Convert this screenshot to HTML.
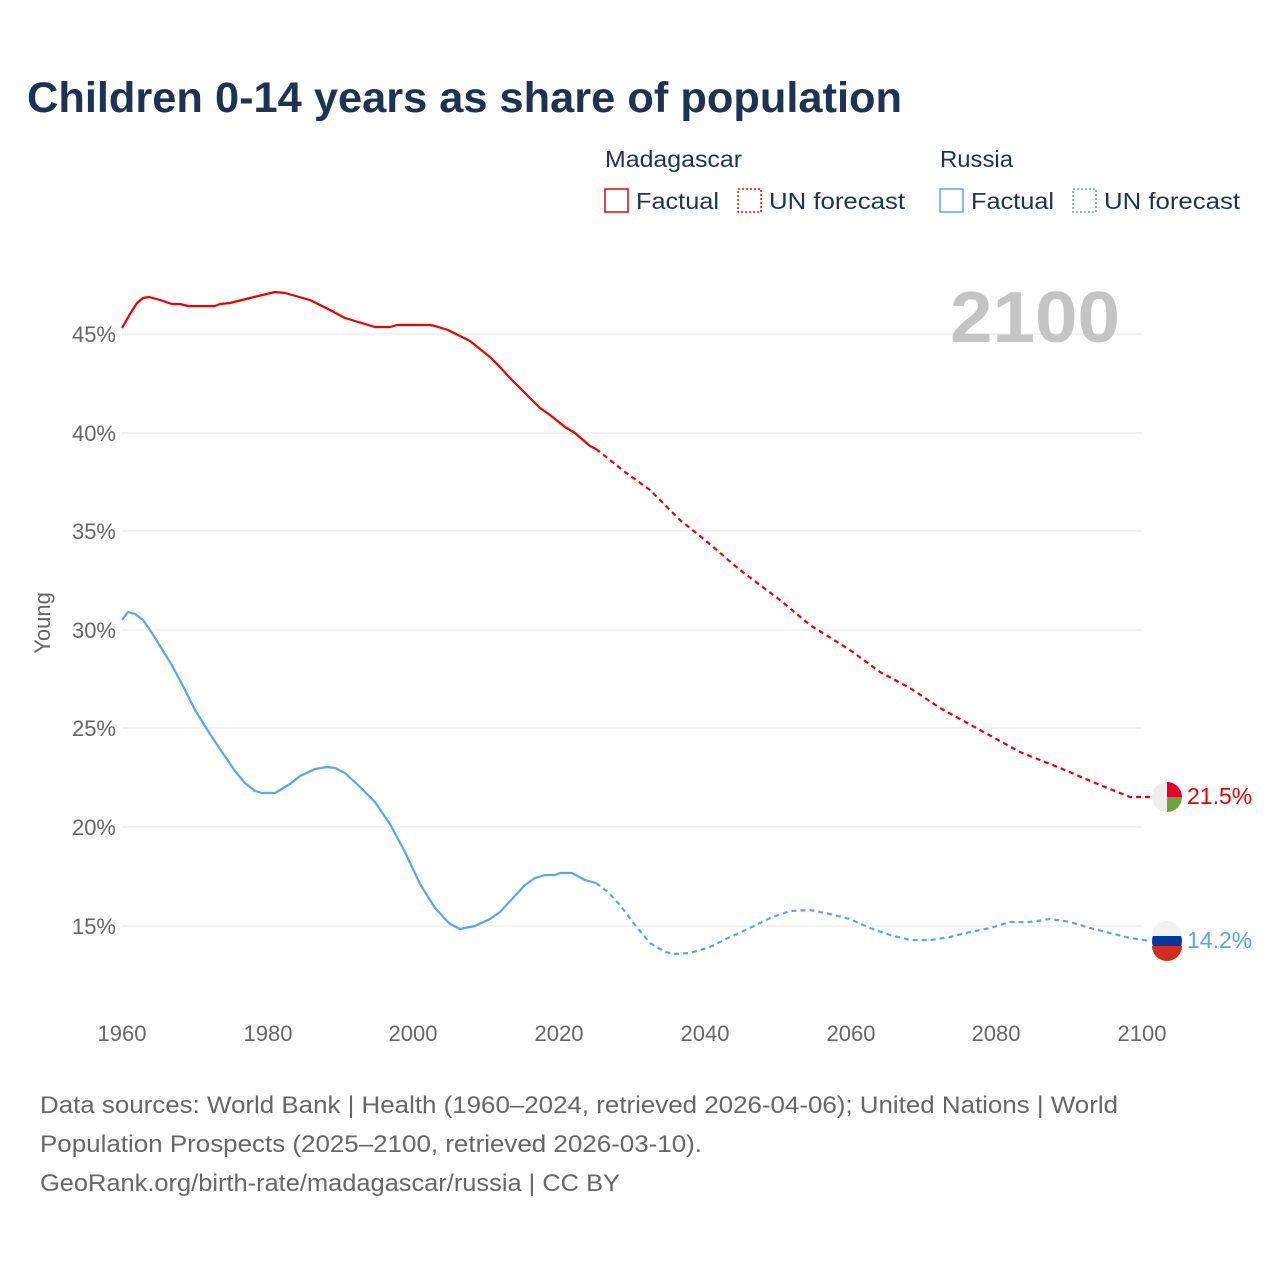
<!DOCTYPE html>
<html><head><meta charset="utf-8"><style>
body{margin:0;background:#fff;}
svg text{font-family:"Liberation Sans",sans-serif;}
</style></head><body>
<svg width="1280" height="1280" viewBox="0 0 1280 1280" xmlns="http://www.w3.org/2000/svg">
<rect width="1280" height="1280" fill="#fff"/>
<text x="27" y="112" font-size="43" font-weight="bold" fill="#1d3353" textLength="875" lengthAdjust="spacingAndGlyphs">Children 0-14 years as share of population</text>
<g font-size="23" fill="#1d3353">
<text x="605" y="167" textLength="137" lengthAdjust="spacingAndGlyphs">Madagascar</text>
<text x="940" y="167" textLength="73" lengthAdjust="spacingAndGlyphs">Russia</text>
<rect x="605" y="189" width="23" height="23" fill="none" stroke="#e00" stroke-width="1.5"/>
<text x="636" y="209" textLength="83" lengthAdjust="spacingAndGlyphs">Factual</text>
<rect x="738" y="189" width="23" height="23" fill="none" stroke="#e00" stroke-width="1.5" stroke-dasharray="2,2"/>
<text x="769" y="209" textLength="136" lengthAdjust="spacingAndGlyphs">UN forecast</text>
<rect x="940" y="189" width="23" height="23" fill="none" stroke="#5aa6ee" stroke-width="1.5"/>
<text x="971" y="209" textLength="83" lengthAdjust="spacingAndGlyphs">Factual</text>
<rect x="1073" y="189" width="23" height="23" fill="none" stroke="#5aa6ee" stroke-width="1.5" stroke-dasharray="2,2"/>
<text x="1104" y="209" textLength="136" lengthAdjust="spacingAndGlyphs">UN forecast</text>
</g>
<g stroke="#e6e6e6" stroke-width="1">
<line x1="122" x2="1142" y1="334" y2="334"/><line x1="122" x2="1142" y1="433" y2="433"/>
<line x1="122" x2="1142" y1="531" y2="531"/><line x1="122" x2="1142" y1="630" y2="630"/>
<line x1="122" x2="1142" y1="728" y2="728"/><line x1="122" x2="1142" y1="827" y2="827"/>
<line x1="122" x2="1142" y1="926" y2="926"/>
</g>
<g font-size="22" fill="#666" text-anchor="end">
<text x="116" y="342">45%</text><text x="116" y="441">40%</text><text x="116" y="539">35%</text>
<text x="116" y="638">30%</text><text x="116" y="736">25%</text><text x="116" y="835">20%</text>
<text x="116" y="934">15%</text>
</g>
<text transform="translate(50,623) rotate(-90)" font-size="22" fill="#666" text-anchor="middle">Young</text>
<g font-size="22" fill="#666" text-anchor="middle">
<text x="122" y="1041">1960</text><text x="268" y="1041">1980</text><text x="413" y="1041">2000</text>
<text x="559" y="1041">2020</text><text x="705" y="1041">2040</text><text x="851" y="1041">2060</text>
<text x="996" y="1041">2080</text><text x="1142" y="1041">2100</text>
</g>
<text x="950" y="342" font-size="72" font-weight="bold" fill="#c4c4c4" textLength="170" lengthAdjust="spacingAndGlyphs">2100</text>
<g fill="none" stroke-width="2.2" stroke-linejoin="round">
<polyline stroke="#e00" points="122,328 130,314 137,303 143,298 149,297 160,300 172,304 180,304 188,306 215,306 220,304 230,303 250,298 275,292 285,293 310,300 330,310 345,318 375,327 390,327 397,325 430,325 435,326 448,330 470,341 490,357 498,365 510,378 525,393 540,408 550,415 565,427 575,433 590,446 596,449"/>
<polyline stroke="#e00" stroke-dasharray="5,4" points="596,449 610,460 625,472 650,490 680,520 705,540 740,570 780,600 810,625 850,650 880,672 910,688 940,708 980,730 1020,752 1060,768 1100,785 1130,797 1150,797"/>
<polyline stroke="#5aa6ee" points="122,620 128,612 135,614 143,620 150,630 160,646 170,662 182,684 195,710 210,734 222,752 235,771 245,783 255,791 262,793 275,793 290,784 300,776 315,769 327,767 335,768 345,773 358,785 375,802 390,824 405,852 420,884 435,908 450,924 460,929 475,926 490,919 500,912 512,899 525,885 535,878 545,875 555,875 560,873 572,873 585,880 596,883"/>
<polyline stroke="#5aa6ee" stroke-dasharray="5,4" points="596,883 608,892 620,905 635,925 650,943 665,952 675,954 690,953 710,947 730,937 750,928 770,918 790,911 810,910 830,914 850,919 870,928 890,935 910,940 930,940 950,937 970,932 990,928 1010,922 1030,922 1050,919 1070,922 1090,928 1110,933 1130,938 1150,941"/>
</g>
<circle cx="1167" cy="797" r="15" fill="#eee"/>
<path d="M1167,782 A15,15 0 0 1 1182,797 L1167,797 Z" fill="#e4002b"/>
<path d="M1167,797 L1182,797 A15,15 0 0 1 1167,812 Z" fill="#6aa53c"/>
<circle cx="1167" cy="941" r="15" fill="#0039a6"/>
<path d="M1152,936 A15,15 0 0 1 1182,936 Z" fill="#f2f2f2"/>
<path d="M1152,946 L1182,946 A15,15 0 0 1 1152,946 Z" fill="#d52b1e"/>
<text x="1187" y="804" font-size="23" fill="#e00">21.5%</text>
<text x="1187" y="948" font-size="23" fill="#5aa6ee">14.2%</text>
<g font-size="24" fill="#666">
<text x="40" y="1113" textLength="1078" lengthAdjust="spacingAndGlyphs">Data sources: World Bank | Health (1960–2024, retrieved 2026-04-06); United Nations | World</text>
<text x="40" y="1152" textLength="662" lengthAdjust="spacingAndGlyphs">Population Prospects (2025–2100, retrieved 2026-03-10).</text>
<text x="40" y="1191" textLength="580" lengthAdjust="spacingAndGlyphs">GeoRank.org/birth-rate/madagascar/russia | CC BY</text>
</g>
</svg>
</body></html>
